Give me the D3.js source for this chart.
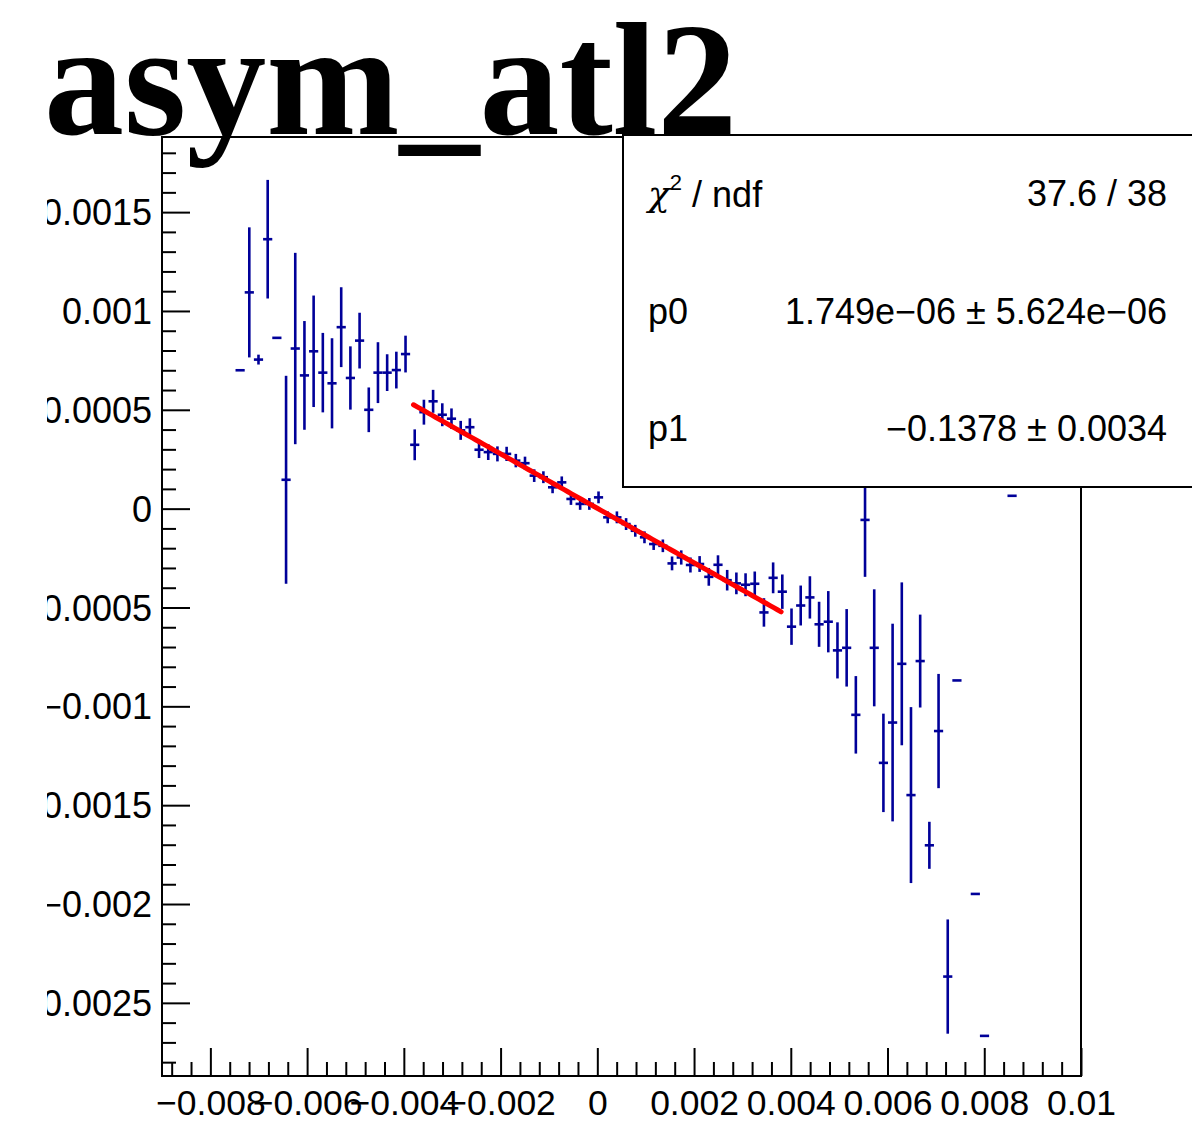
<!DOCTYPE html>
<html>
<head>
<meta charset="utf-8">
<script src="https://cdn.jsdelivr.net/npm/d3@7"></script>
<style>
  html, body { margin: 0; padding: 0; background: #fff; }
  svg { display: block; }
</style>
</head>
<body>
<script>
// ---------------- data ----------------
const title = "asym_atl2";
const binHalfWidth = 0.000095;
const binCenters = [
  -0.007385, -0.007195, -0.007005, -0.006815, -0.006625, -0.006435, -0.006245, -0.006055,
  -0.005865, -0.005675, -0.005485, -0.005295, -0.005105, -0.004915, -0.004725, -0.004535,
  -0.004345, -0.004155, -0.003965, -0.003775, -0.003585, -0.003395, -0.003205, -0.003015,
  -0.002825, -0.002635, -0.002445, -0.002255, -0.002065, -0.001875, -0.001685, -0.001495,
  -0.001305, -0.001115, -0.000925, -0.000735, -0.000545, -0.000355, -0.000165, 0.000025,
  0.000215, 0.000405, 0.000595, 0.000785, 0.000975, 0.001165, 0.001355, 0.001545,
  0.001735, 0.001925, 0.002115, 0.002305, 0.002495, 0.002685, 0.002875, 0.003065,
  0.003255, 0.003445, 0.003635, 0.003825, 0.004015, 0.004205, 0.004395, 0.004585,
  0.004775, 0.004965, 0.005155, 0.005345, 0.005535, 0.005725, 0.005915, 0.006105,
  0.006295, 0.006485, 0.006675, 0.006865, 0.007055, 0.007245, 0.007435, 0.007815,
  0.008005, 0.008575
];
const asymValues = [
  0.0007, 0.001094, 0.000754, 0.001363, 0.000864, 0.000146, 0.00081, 0.000674,
  0.000796, 0.000688, 0.000634, 0.000918, 0.000661, 0.00085, 0.0005, 0.000688,
  0.000688, 0.000701, 0.000782, 0.000323, 0.000488, 0.000543, 0.000475, 0.000455,
  0.000396, 0.000412, 0.000298, 0.000286, 0.000277, 0.000277, 0.000243, 0.00023,
  0.000167, 0.000159, 0.000108, 0.000133, 0.000049, 0.000024, 0.000024, 0.000057,
  -0.000044, -0.000044, -0.000078, -0.000112, -0.000145, -0.000179, -0.000188, -0.000277,
  -0.000247, -0.000285, -0.00028, -0.000345, -0.000284, -0.000362, -0.000378, -0.000385,
  -0.00038, -0.000525, -0.00035, -0.00042, -0.000597, -0.00049, -0.000449, -0.000585,
  -0.000572, -0.000717, -0.000704, -0.001043, -0.000057, -0.000704, -0.001286, -0.001082,
  -0.000785, -0.001449, -0.000771, -0.001703, -0.001125, -0.002367, -0.000869, -0.001949,
  -0.002667, 0.000065
];
const asymErrors = [
  0, 0.000329, 0.000025, 0.0003, 0, 0.000526, 0.000484, 0.000275,
  0.000282, 0.000201, 0.000228, 0.000202, 0.00016, 0.000141, 0.000113, 0.000154,
  0.000093, 0.000093, 0.000093, 0.000078, 0.000063, 0.000058, 0.000058, 0.000052,
  0.000048, 0.000045, 0.000042, 0.00004, 0.000038, 0.000036, 0.000034, 0.000033,
  0.000032, 0.00003, 0.00003, 0.00003, 0.00003, 0.00003, 0.00003, 0.00003,
  0.00003, 0.00003, 0.00003, 0.00003, 0.00003, 0.00003, 0.000032, 0.000035,
  0.000036, 0.000038, 0.00004, 0.000045, 0.000048, 0.000052, 0.000055, 0.000058,
  0.000062, 0.000072, 0.000078, 0.000087, 0.000092, 0.000101, 0.000107, 0.000114,
  0.000155, 0.000142, 0.000196, 0.000196, 0.000288, 0.000296, 0.000249, 0.0005,
  0.000412, 0.000445, 0.000235, 0.000119, 0.000289, 0.000289, 0, 0,
  0, 0
];
// fit (pol1) result
const fitP0 = 1.749e-06;
const fitP1 = -0.1378;
const fitRange = [-0.0038, 0.0038];
const statsLabels = ["χ2 / ndf", "p0", "p1"];
const statsValues = ["37.6 / 38", "1.749e\u221206 \u00b1 5.624e\u221206", "\u22120.1378 \u00b1 0.0034"];
// axes
const xDomain = [-0.009, 0.01];
const yDomain = [-0.00287, 0.00188];
const xTickValues = [-0.008, -0.006, -0.004, -0.002, 0, 0.002, 0.004, 0.006, 0.008, 0.01];
const xTickLabels = ["\u22120.008", "\u22120.006", "\u22120.004", "\u22120.002", "0", "0.002", "0.004", "0.006", "0.008", "0.01"];
const yTickValues = [-0.0025, -0.002, -0.0015, -0.001, -0.0005, 0, 0.0005, 0.001, 0.0015];
const yTickLabels = ["\u22120.0025", "\u22120.002", "\u22120.0015", "\u22120.001", "\u22120.0005", "0", "0.0005", "0.001", "0.0015"];

// ---------------- layout ----------------
const W = 1192, H = 1144;
const frame = { left: 162, right: 1081, top: 137, bottom: 1076 };
const markerColor = "#000099";
const font = "'Liberation Sans', Arial, Helvetica, sans-serif";
const yLabelSize = 36;

const svg = d3.select("body").append("svg").attr("width", W).attr("height", H);
svg.append("rect").attr("width", W).attr("height", H).attr("fill", "#fff");

const x = d3.scaleLinear().domain(xDomain).range([frame.left, frame.right]);
const y = d3.scaleLinear().domain(yDomain).range([frame.bottom, frame.top]);

const defs = svg.append("defs");
defs.append("clipPath").attr("id", "ylabclip").append("rect")
  .attr("x", 47).attr("y", 0).attr("width", 400).attr("height", H);
defs.append("clipPath").attr("id", "plotclip").append("rect")
  .attr("x", frame.left).attr("y", frame.top)
  .attr("width", frame.right - frame.left).attr("height", frame.bottom - frame.top);

// minor tick values
const eps = 1e-12;
const xMinor = d3.range(Math.ceil(xDomain[0] / 0.0004 - eps), Math.floor(xDomain[1] / 0.0004 + eps) + 1)
  .map(k => k * 0.0004).filter(v => !xTickValues.some(t => Math.abs(t - v) < 1e-9));
const yMinor = d3.range(Math.ceil(yDomain[0] / 0.0001 - eps), Math.floor(yDomain[1] / 0.0001 + eps) + 1)
  .map(k => k * 0.0001).filter(v => !yTickValues.some(t => Math.abs(t - v) < 1e-9));

// x axis
const xAxisG = svg.append("g").attr("transform", `translate(0,${frame.bottom})`);
xAxisG.call(d3.axisBottom(x).tickValues(xTickValues).tickSizeInner(-28).tickSizeOuter(0)
  .tickPadding(14).tickFormat((d, i) => xTickLabels[i]));
const xMinorG = svg.append("g").attr("transform", `translate(0,${frame.bottom})`);
xMinorG.call(d3.axisBottom(x).tickValues(xMinor).tickSizeInner(-14).tickSizeOuter(0).tickFormat(""));

// y axis
const yAxisG = svg.append("g").attr("transform", `translate(${frame.left},0)`);
yAxisG.call(d3.axisLeft(y).tickValues(yTickValues).tickSizeInner(-28).tickSizeOuter(0)
  .tickPadding(10).tickFormat((d, i) => yTickLabels[i]));
const yMinorG = svg.append("g").attr("transform", `translate(${frame.left},0)`);
yMinorG.call(d3.axisLeft(y).tickValues(yMinor).tickSizeInner(-14).tickSizeOuter(0).tickFormat(""));

[xAxisG, xMinorG, yAxisG, yMinorG].forEach(g => {
  g.select(".domain").remove();
  g.selectAll(".tick line").attr("stroke", "#000").attr("stroke-width", 2);
  g.selectAll(".tick text").attr("font-family", font).attr("font-size", 35.5).attr("fill", "#000");
});
// y labels, clipped at the left like the reference
const yLabelLayer = svg.append("g").attr("clip-path", "url(#ylabclip)");
yAxisG.selectAll(".tick").each(function () {
  const t = d3.select(this).select("text");
  const tr = d3.select(this).attr("transform");
  const g = yLabelLayer.append("g").attr("transform", `translate(${frame.left},0) ${tr}`);
  g.append("text").attr("x", t.attr("x")).attr("dy", "0.35em")
    .attr("text-anchor", "end").attr("font-family", font).attr("font-size", yLabelSize).attr("fill", "#000")
    .text(t.text());
  t.remove();
});

// frame
svg.append("rect").attr("x", frame.left).attr("y", frame.top)
  .attr("width", frame.right - frame.left).attr("height", frame.bottom - frame.top)
  .attr("fill", "none").attr("stroke", "#000").attr("stroke-width", 2);

// data points with error bars
const pts = binCenters.map((c, i) => ({ x: c, y: asymValues[i], e: asymErrors[i] }));
const dataG = svg.append("g").attr("clip-path", "url(#plotclip)")
  .attr("stroke", markerColor).attr("stroke-width", 2.6).attr("fill", "none");
dataG.selectAll("line.h").data(pts).join("line").attr("class", "h")
  .attr("x1", d => x(d.x - binHalfWidth)).attr("x2", d => x(d.x + binHalfWidth))
  .attr("y1", d => y(d.y)).attr("y2", d => y(d.y));
dataG.selectAll("line.v").data(pts.filter(d => d.e > 0)).join("line").attr("class", "v")
  .attr("x1", d => x(d.x)).attr("x2", d => x(d.x))
  .attr("y1", d => y(d.y - d.e)).attr("y2", d => y(d.y + d.e));

// fit line
const fitXs = d3.range(0, 101).map(k => fitRange[0] + (fitRange[1] - fitRange[0]) * k / 100);
svg.append("path")
  .datum(fitXs)
  .attr("d", d3.line().x(d => x(d)).y(d => y(fitP0 + fitP1 * d)))
  .attr("fill", "none").attr("stroke", "#ff0000").attr("stroke-width", 5)
  .attr("stroke-linecap", "round");

// stats box
const box = { x: 623, y: 135, w: 600, h: 352 };
svg.append("rect").attr("x", box.x).attr("y", box.y).attr("width", box.w).attr("height", box.h)
  .attr("fill", "#fff").attr("stroke", "#000").attr("stroke-width", 2);
const rowH = box.h / 3;
statsLabels.forEach((lab, i) => {
  const cy = box.y + rowH * (i + 0.5);
  const t = svg.append("text").attr("x", 648).attr("y", cy).attr("dy", "0.35em")
    .attr("font-family", font).attr("font-size", 36).attr("fill", "#000");
  if (i === 0) {
    t.append("tspan").attr("font-family", "'DejaVu Serif', serif").attr("font-style", "italic").text("χ");
    t.append("tspan").attr("font-size", 22).attr("dy", "-0.75em").text("2");
    t.append("tspan").attr("dy", "0.47em").text(" / ndf");
  } else {
    t.text(lab);
  }
  svg.append("text").attr("x", 1167).attr("y", cy).attr("dy", "0.35em")
    .attr("text-anchor", "end").attr("font-family", font).attr("font-size", 36).attr("fill", "#000")
    .text(statsValues[i]);
});

// title
svg.append("text").attr("x", 44).attr("y", 134)
  .attr("font-family", "'Liberation Serif', 'Times New Roman', serif").attr("font-weight", "bold")
  .attr("font-size", 160).attr("fill", "#000").text(title);
</script>
</body>
</html>
